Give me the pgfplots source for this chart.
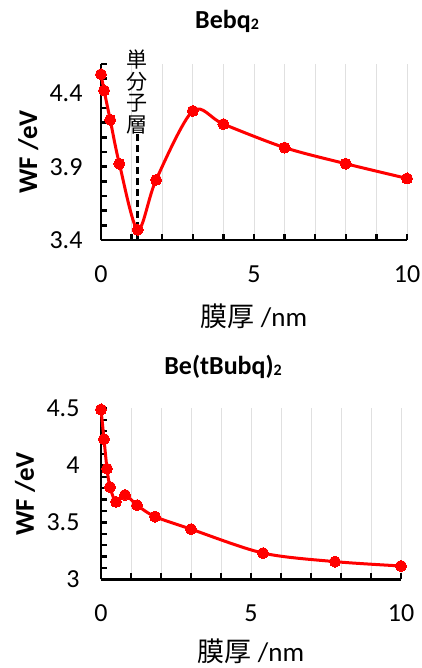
\documentclass[border=0pt]{standalone}
\usepackage{pgfplots}
\pgfplotsset{compat=1.18}
\usepackage{fontspec}
\setmainfont{Carlito}
\newfontfamily\cjk{Noto Sans CJK JP}

\definecolor{wfred}{RGB}{255,0,0}
\definecolor{gridgray}{RGB}{224,224,224}

\pgfplotsset{
  wfaxis/.style={
    scale only axis,
    clip=false,
    xmin=0, xmax=10,
    axis lines=left,
    axis line style={-, black, line width=2.8pt},
    xtick={0,5,10},
    minor xtick={1,2,3,4,6,7,8,9},
    xmajorgrids, xminorgrids,
    major grid style={gridgray, line width=1pt},
    minor grid style={gridgray, line width=1pt},
    tick align=inside,
    tick style={black, line width=2.4pt},
    major tick length=6pt,
    minor tick length=6pt,
    /pgf/number format/assume math mode=true,
    tick label style={font=\fontsize{26}{30}\selectfont, black},
    xticklabel style={yshift=-22pt},
    ylabel={WF /eV},
    xlabel={{\cjk 膜厚} /nm},
    ylabel style={font=\bfseries\fontsize{27}{30}\selectfont, anchor=center},
    xlabel style={font=\fontsize{27}{30}\selectfont, anchor=center},
    title style={font=\bfseries\fontsize{26}{30}\selectfont, anchor=base},
  },
  wfline/.style={wfred, line width=3pt, smooth,
    mark=*, mark size=5.5pt, mark options={solid, fill=wfred, draw=wfred, line width=0pt}},
}

\begin{document}
\begin{tikzpicture}
\useasboundingbox (0,0) rectangle (422pt,-668pt);

% Bebq2
\begin{axis}[wfaxis,
  at={(101pt,-240pt)}, anchor=south west,
  width=306pt, height=176pt,
  ymin=3.4, ymax=4.6,
  ytick={3.4,3.9,4.4},
  minor ytick={3.5,3.6,3.7,3.8,4.0,4.1,4.2,4.3,4.5,4.6},
  yticklabel style={xshift=-15pt},
  title={Bebq\raisebox{-1pt}{\fontsize{16}{16}\selectfont 2}},
  title style={at={(axis description cs:0.412,1.165)}},
  ylabel style={at={(axis description cs:-0.238,0.5)}},
  xlabel style={at={(axis description cs:0.5,-0.432)}},
]
\addplot[black, line width=2.8pt, dash pattern=on 7pt off 4pt] coordinates {(1.2,3.4) (1.2,4.12)};
\addplot[wfline] coordinates {
  (0,4.53) (0.1,4.42) (0.3,4.22) (0.6,3.92) (1.2,3.47) (1.8,3.81)
  (3,4.28) (4,4.19) (6,4.03) (8,3.92) (10,3.82)
};
\node[font=\cjk\fontsize{21}{21.7}\selectfont, align=center, inner sep=0pt]
  at (axis cs:1.18,4.41) {単\\分\\子\\層};
\end{axis}

% Be(tBubq)2
\begin{axis}[wfaxis,
  at={(101pt,-579.3pt)}, anchor=south west,
  width=300pt, height=171pt,
  ymin=3, ymax=4.5,
  ytick={3,3.5,4,4.5},
  minor ytick={3.1,3.2,3.3,3.4,3.6,3.7,3.8,3.9,4.1,4.2,4.3,4.4},
  yticklabel style={xshift=-18pt},
  title={Be(tBubq)\raisebox{-1pt}{\fontsize{16}{16}\selectfont 2}},
  title style={at={(axis description cs:0.407,1.161)}},
  ylabel style={at={(axis description cs:-0.253,0.5)}},
  xlabel style={at={(axis description cs:0.5,-0.42)}},
]
\addplot[wfline] coordinates {
  (0,4.49) (0.1,4.23) (0.2,3.97) (0.3,3.81) (0.5,3.68) (0.8,3.74)
  (1.2,3.65) (1.8,3.55) (3,3.44) (5.4,3.23) (7.8,3.155) (10,3.117)
};
\end{axis}
\end{tikzpicture}
\end{document}
